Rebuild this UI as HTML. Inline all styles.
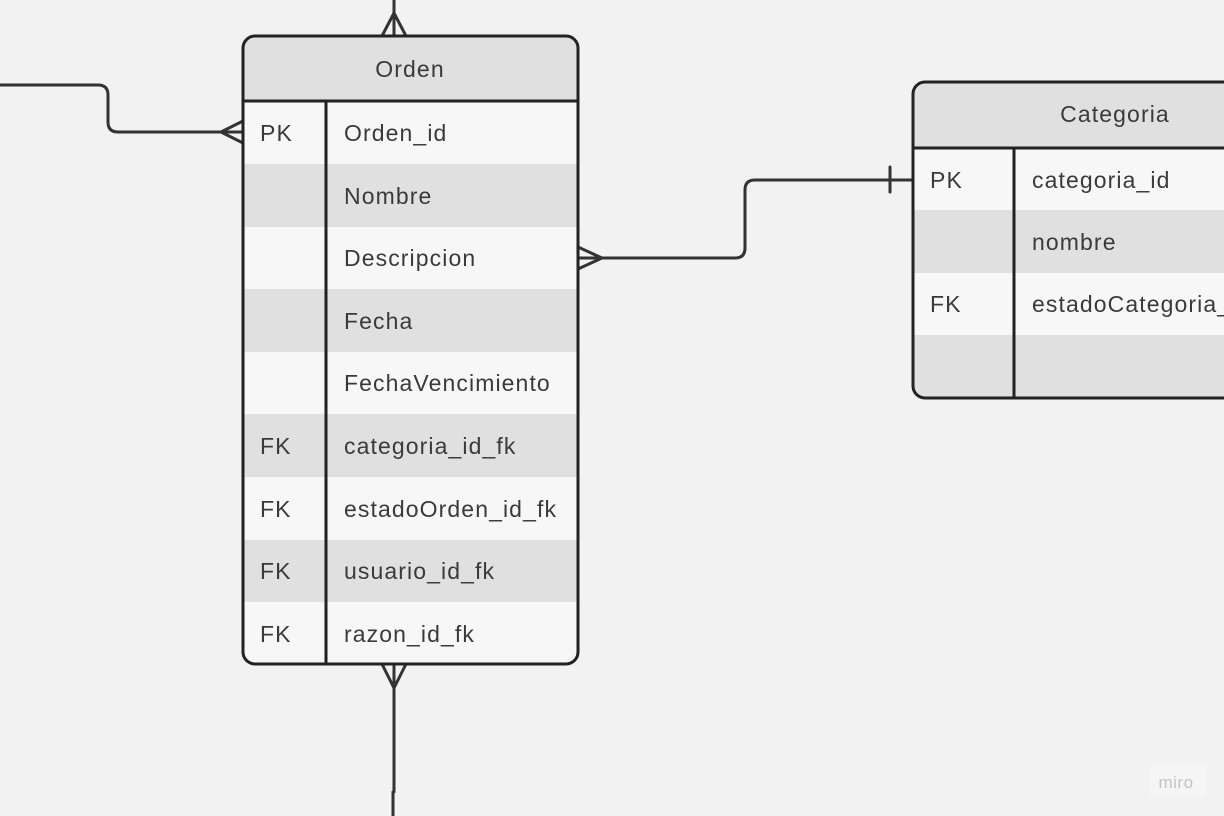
<!DOCTYPE html>
<html><head><meta charset="utf-8"><style>
html,body{margin:0;padding:0;background:#f2f2f2;}
svg{display:block;}
text{font-family:"Liberation Sans","DejaVu Sans",sans-serif;font-size:23px;fill:#3a3a3a;letter-spacing:1.1px;}
</style></head><body>
<svg width="1224" height="816" viewBox="0 0 1224 816" xmlns="http://www.w3.org/2000/svg">
<rect width="1224" height="816" fill="#f2f2f2"/>
<g fill="none" stroke="#333" stroke-width="3" stroke-linecap="round" stroke-linejoin="round">
<path d="M0 85 H98 Q108 85 108 95 V122 Q108 132 118 132 H243"/>
<path d="M243 121 L221 132 L243 143"/>
<path d="M394 0 V36"/>
<path d="M382 36 L394 13 L406 36"/>
<path d="M394 664 V792 M393 792 V816"/>
<path d="M382 664 L394 688 L406 664"/>
<path d="M578 258 H735 Q745 258 745 248 V190 Q745 180 755 180 H913"/>
<path d="M578 247 L602 258 L578 269"/>
<path d="M890 167 V192"/>
</g>
<defs><clipPath id="c1"><rect x="243" y="36" width="335" height="628" rx="12"/></clipPath>
<clipPath id="c2"><rect x="913" y="82" width="340" height="316" rx="12"/></clipPath></defs>
<g clip-path="url(#c1)">
<rect x="243" y="36" width="335" height="628" fill="#f7f7f7"/>
<rect x="243" y="36" width="335" height="65" fill="#e0e0e0"/>
<rect x="243" y="164" width="335" height="63" fill="#e0e0e0"/>
<rect x="243" y="289" width="335" height="63" fill="#e0e0e0"/>
<rect x="243" y="414" width="335" height="63" fill="#e0e0e0"/>
<rect x="243" y="540" width="335" height="62" fill="#e0e0e0"/>
</g>
<rect x="243" y="36" width="335" height="628" rx="12" fill="none" stroke="#222" stroke-width="3"/>
<line x1="243" y1="101" x2="578" y2="101" stroke="#222" stroke-width="3"/>
<line x1="326" y1="101" x2="326" y2="664" stroke="#222" stroke-width="3"/>
<text x="410" y="77" text-anchor="middle">Orden</text>
<text x="260" y="141">PK</text><text x="344" y="141">Orden_id</text>
<text x="344" y="204">Nombre</text>
<text x="344" y="266">Descripcion</text>
<text x="344" y="329">Fecha</text>
<text x="344" y="391">FechaVencimiento</text>
<text x="260" y="454">FK</text><text x="344" y="454">categoria_id_fk</text>
<text x="260" y="517">FK</text><text x="344" y="517">estadoOrden_id_fk</text>
<text x="260" y="579">FK</text><text x="344" y="579">usuario_id_fk</text>
<text x="260" y="642">FK</text><text x="344" y="642">razon_id_fk</text>
<g clip-path="url(#c2)">
<rect x="913" y="82" width="340" height="316" fill="#f7f7f7"/>
<rect x="913" y="82" width="340" height="66" fill="#e0e0e0"/>
<rect x="913" y="210" width="340" height="63" fill="#e0e0e0"/>
<rect x="913" y="335" width="340" height="63" fill="#e0e0e0"/>
</g>
<rect x="913" y="82" width="340" height="316" rx="12" fill="none" stroke="#222" stroke-width="3"/>
<line x1="913" y1="148" x2="1224" y2="148" stroke="#222" stroke-width="3"/>
<line x1="1014" y1="148" x2="1014" y2="398" stroke="#222" stroke-width="3"/>
<text x="1115" y="122" text-anchor="middle">Categoria</text>
<text x="930" y="188">PK</text><text x="1032" y="188">categoria_id</text>
<text x="1032" y="250">nombre</text>
<text x="930" y="312">FK</text><text x="1032" y="312">estadoCategoria_id_fk</text>
<rect x="1150" y="765" width="56" height="32" fill="#f5f5f5"/>
<text x="1176" y="788" text-anchor="middle" style="font-size:17px;fill:#c4c4c4;letter-spacing:0.5px">miro</text>
</svg>
</body></html>
